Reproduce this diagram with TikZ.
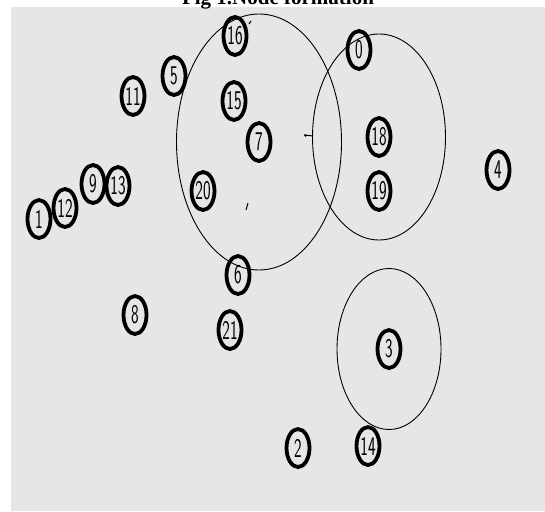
\documentclass[tikz,border=0pt]{standalone}
\usepackage{fontspec}
\usepackage{graphicx}
\newfontfamily\titlefont{Liberation Serif}
\usetikzlibrary{shapes.geometric}
\definecolor{bg}{RGB}{230,230,230}
\newcommand{\nlab}[1]{\scalebox{0.6}[1]{\fontsize{27}{27}\selectfont\sffamily #1}}
\begin{document}
\begin{tikzpicture}[x=1pt,y=-1pt,
  nd/.style={ellipse, draw=black, line width=3.8pt, minimum width=23pt,
             minimum height=38pt, inner sep=0pt},
  rangeline/.style={draw=black, line width=0.9pt},
  speck/.style={draw=black, line width=1pt}]
\useasboundingbox (0,0) rectangle (545,511);
\fill[bg] (11,7) rectangle (545,511);
\node[font=\titlefont\bfseries\fontsize{21}{21}\selectfont, anchor=base] (title) at (278,5) {Fig 1.Node formation};

% nodes
\node[nd] (n0)  at (359,50)  {\nlab{0}};
\node[nd] (n1)  at (39,219)  {\nlab{1}};
\node[nd] (n2)  at (298,448) {\nlab{2}};
\node[nd] (n3)  at (389,349) {\nlab{3}};
\node[nd] (n4)  at (498,170) {\nlab{4}};
\node[nd] (n5)  at (174,76)  {\nlab{5}};
\node[nd] (n6)  at (238,275) {\nlab{6}};
\node[nd] (n7)  at (259,142) {\nlab{7}};
\node[nd] (n8)  at (135,315) {\nlab{8}};
\node[nd] (n9)  at (93,184)  {\nlab{9}};
\node[nd] (n11) at (133,96)  {\nlab{11}};
\node[nd] (n12) at (65,208)  {\nlab{12}};
\node[nd] (n13) at (118,186) {\nlab{13}};
\node[nd] (n14) at (368,446) {\nlab{14}};
\node[nd] (n15) at (234,101) {\nlab{15}};
\node[nd] (n16) at (235,36)  {\nlab{16}};
\node[nd] (n18) at (379,137) {\nlab{18}};
\node[nd] (n19) at (379,191) {\nlab{19}};
\node[nd] (n20) at (203,191) {\nlab{20}};
\node[nd] (n21) at (230,330) {\nlab{21}};

% transmission ranges
\draw[rangeline] (n7.center) ellipse [x radius=82.5, y radius=128];
\draw[rangeline] (n18.center) ellipse [x radius=66.5, y radius=103];
\draw[rangeline] (n3.center) ellipse [x radius=52, y radius=80.5];

% small marks
\coordinate (m1a) at (304,135); \coordinate (m1b) at (313,136);
\draw[speck] (m1a) -- (m1b);
\fill (305.5,135.5) circle [radius=1.4];
\coordinate (m2a) at (246,210); \coordinate (m2b) at (248,203);
\draw[speck] (m2a) -- (m2b);
\coordinate (m3a) at (249,24); \coordinate (m3b) at (251,21);
\draw[speck] (m3a) -- (m3b);
\end{tikzpicture}
\end{document}
